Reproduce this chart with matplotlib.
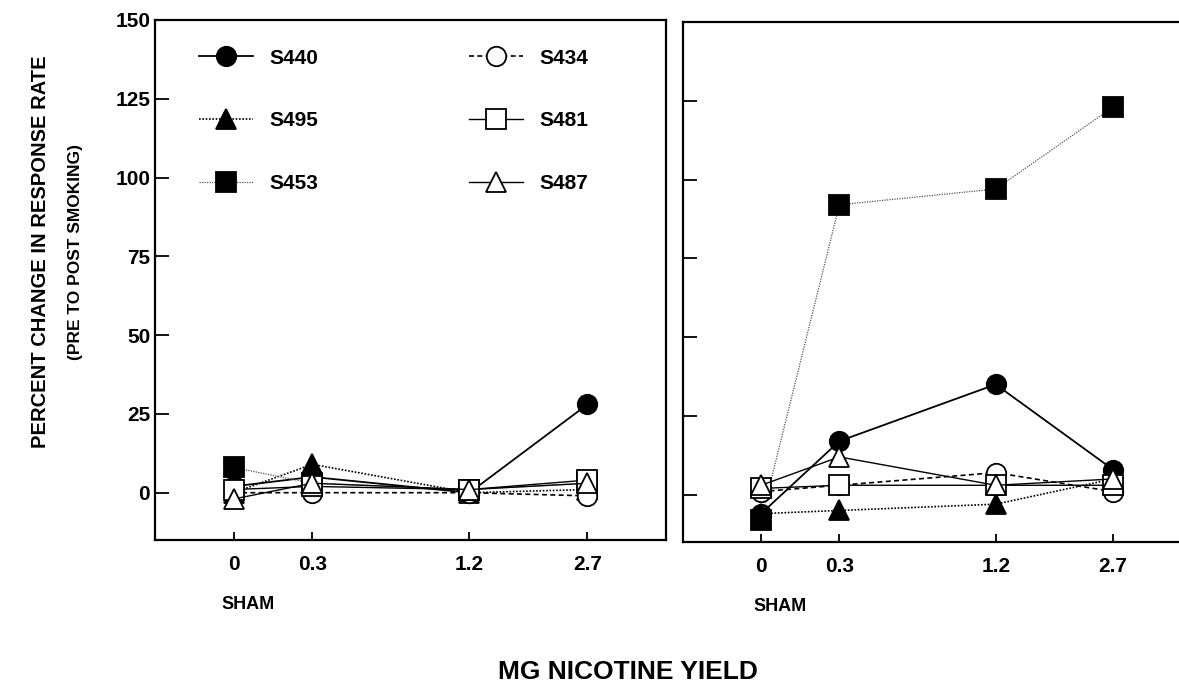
import matplotlib.pyplot as plt

plt.rcParams['font.family'] = ['Liberation Sans', 'DejaVu Sans']
plt.rcParams['font.weight'] = 'bold'

doses = ['0', '0.3', '1.2', '2.7']
x_pos = [0, 1, 3, 4.5]  # drawn spacing of the dose categories

subjects = ['S440', 'S495', 'S453', 'S434', 'S481', 'S487']

# left panel
left = {
    'S440': [2, 5, 0, 28],
    'S495': [0, 9, 0, 1],
    'S453': [8, 3, 1, 3],
    'S434': [0, 0, 0, -1],
    'S481': [1, 2, 1, 4],
    'S487': [-2, 3, 1, 3],
}
# right panel
right = {
    'S440': [-6, 17, 35, 8],
    'S495': [-6, -5, -3, 5],
    'S453': [-8, 92, 97, 123],
    'S434': [1, 3, 7, 1],
    'S481': [2, 3, 3, 3],
    'S487': [3, 12, 3, 5],
}

styles = {
    'S440': dict(marker='o', mfc='black', ls='-', lw=1.3, color='black'),
    'S495': dict(marker='^', mfc='black', ls=(0, (1, 1)), lw=1.2, color='black'),
    'S453': dict(marker='s', mfc='black', ls=(0, (1, 1)), lw=0.9, color='#555555'),
    'S434': dict(marker='o', mfc='white', ls=(0, (3, 2)), lw=1.2, color='black'),
    'S481': dict(marker='s', mfc='white', ls='-', lw=1.0, color='black'),
    'S487': dict(marker='^', mfc='white', ls='-', lw=1.0, color='black'),
}

fig = plt.figure(figsize=(11.79, 6.98), dpi=100)
ax1 = fig.add_axes([0.1315, 0.2264, 0.4334, 0.745])
ax2 = fig.add_axes([0.5793, 0.2235, 0.431, 0.745])

for ax, data in [(ax1, left), (ax2, right)]:
    for s in subjects:
        st = styles[s]
        ax.plot(x_pos, data[s], marker=st['marker'], markerfacecolor=st['mfc'],
                markeredgecolor='black', markeredgewidth=1.3, markersize=14,
                linestyle=st['ls'], linewidth=st['lw'], color=st['color'], label=s)
    ax.set_xlim(-1, 5.5)
    ax.set_ylim(-15, 150)
    ax.set_yticks([0, 25, 50, 75, 100, 125, 150])
    ax.set_xticks(x_pos)
    ax.set_xticklabels(doses, fontsize=15, fontweight='bold')
    ax.tick_params(axis='y', direction='in', length=10, width=1.3)
    ax.tick_params(axis='x', direction='in', length=6, width=1.3, pad=11)
    for sp in ax.spines.values():
        sp.set_linewidth(1.6)

ax1.text(-0.15, -0.125, 'SHAM', transform=ax1.get_xaxis_transform(),
         ha='left', va='center', fontsize=13, fontweight='bold')
ax2.text(-0.1, -0.125, 'SHAM', transform=ax2.get_xaxis_transform(),
         ha='left', va='center', fontsize=13, fontweight='bold')

ax1.set_yticklabels([str(v) for v in [0, 25, 50, 75, 100, 125, 150]],
                    fontsize=15, fontweight='bold')
ax2.set_yticklabels([])

ax1.legend(ncol=2, loc='upper left', bbox_to_anchor=(0.045, 0.985), frameon=False,
           labelspacing=2.1, columnspacing=7.2, handlelength=2.6,
           handletextpad=0.8, borderaxespad=0.6, prop={'weight': 'bold', 'size': 15})

fig.text(0.034, 0.639, 'PERCENT CHANGE IN RESPONSE RATE', rotation=90,
         ha='center', va='center', fontsize=14.5, fontweight='bold')
fig.text(0.064, 0.639, '(PRE TO POST SMOKING)', rotation=90,
         ha='center', va='center', fontsize=12.5, fontweight='bold')
fig.text(0.533, 0.037, 'MG NICOTINE YIELD', ha='center', va='center',
         fontsize=19, fontweight='bold')

fig.savefig('out.png', dpi=100)
